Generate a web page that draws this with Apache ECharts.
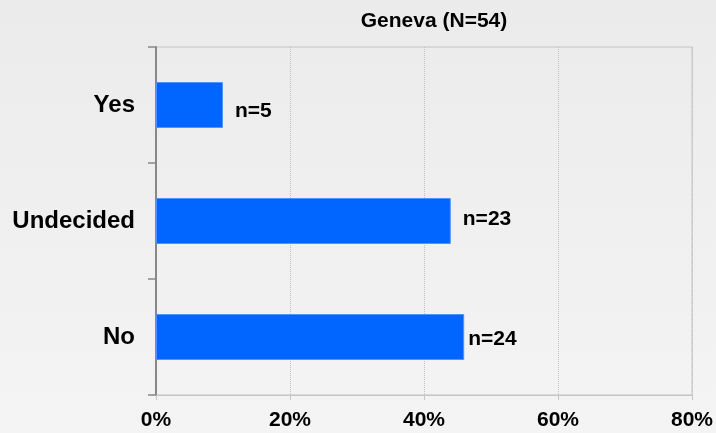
<!DOCTYPE html>
<html>
<head>
<meta charset="utf-8">
<script src="https://cdn.jsdelivr.net/npm/echarts@6/dist/echarts.min.js"></script>
<style>
html,body{margin:0;padding:0;}
#chart{width:716px;height:433px;}
</style>
</head>
<body>
<div id="chart"></div>
<script>
const titleText = 'Geneva (N=54)';
const categories = ['Yes', 'Undecided', 'No'];
const percents = [10, 44, 46];
const counts = [5, 23, 24];
const xTicks = [0, 20, 40, 60, 80];

const FONT = 'Liberation Sans, Arial, sans-serif';
const labelDistances = [12, 12, 4];
const labelOffsets = [[0, 6], [0, -2], [0, 2]];

const chart = echarts.init(document.getElementById('chart'));
const data = percents.map((v, i) => ({
  value: v,
  label: { distance: labelDistances[i], offset: labelOffsets[i] }
}));

chart.setOption({
  backgroundColor: {
    type: 'linear', x: 0, y: 0, x2: 0, y2: 1,
    colorStops: [{ offset: 0, color: '#ebebeb' }, { offset: 1, color: '#f4f4f4' }]
  },
  animation: false,
  title: {
    text: titleText,
    left: 429, top: 6, textAlign: 'center',
    textStyle: { fontFamily: FONT, fontSize: 21, fontWeight: 'bold', color: '#000' }
  },
  grid: {
    left: 156, right: 24, top: 47, bottom: 38,
    show: true, borderColor: '#c4c4c4', borderWidth: 1, backgroundColor: 'transparent'
  },
  xAxis: {
    type: 'value', min: xTicks[0], max: xTicks[xTicks.length - 1], interval: 20,
    axisLine: { show: true, lineStyle: { color: '#c4c4c4', width: 1 } },
    axisTick: { show: true, length: 5, lineStyle: { color: '#c4c4c4' } },
    axisLabel: {
      formatter: '{value}%', margin: 15,
      fontFamily: FONT, fontSize: 21, fontWeight: 'bold', color: '#000'
    },
    splitLine: { show: true, lineStyle: { type: 'dotted', color: '#c0c0c0', width: 1 } }
  },
  yAxis: {
    type: 'category', data: categories, inverse: true,
    axisLine: { show: true, lineStyle: { color: '#888', width: 2 } },
    axisTick: { show: true, length: 8, lineStyle: { color: '#888', width: 1.5 } },
    axisLabel: {
      margin: 21, fontFamily: FONT, fontSize: 24, fontWeight: 'bold', color: '#000',
      padding: [4, 0, 0, 0]
    }
  },
  series: [{
    type: 'bar',
    data: data,
    barWidth: 46,
    itemStyle: { color: '#0066ff', borderColor: '#4d94ff', borderWidth: 1 },
    label: {
      show: true, position: 'right',
      formatter: p => 'n=' + counts[p.dataIndex],
      fontFamily: FONT, fontSize: 21, fontWeight: 'bold', color: '#000'
    }
  }]
});
</script>
</body>
</html>
